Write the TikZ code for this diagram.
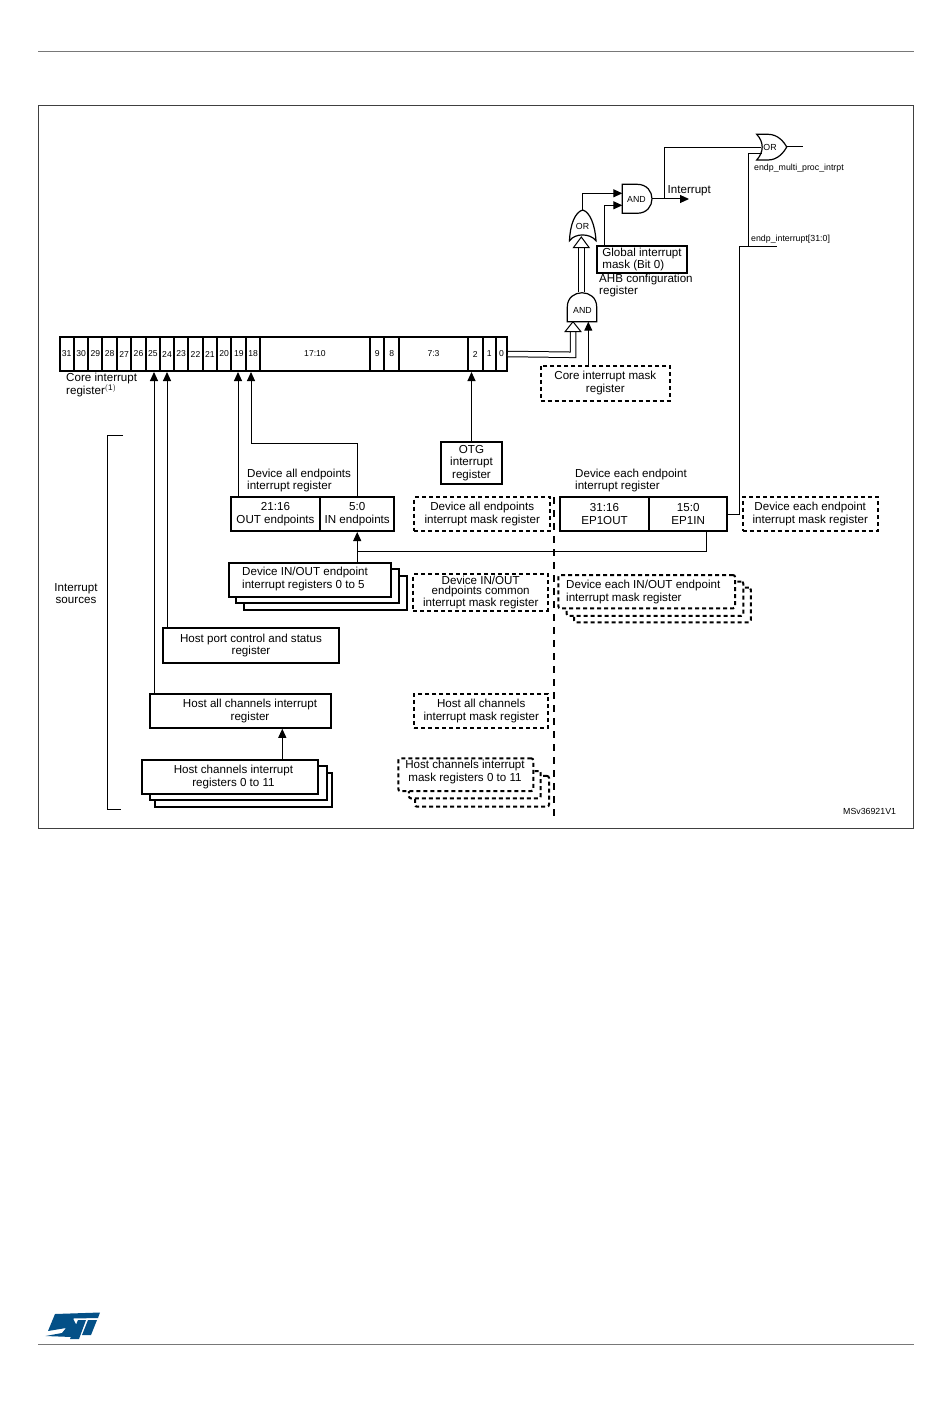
\documentclass[tikz,border=0pt]{standalone}
\usepackage{fontspec}
\setmainfont{Liberation Sans}
\usetikzlibrary{arrows.meta}
\definecolor{stblue}{RGB}{3,80,135}
\definecolor{rulegray}{RGB}{120,120,120}
\tikzset{
  wire/.style={line width=1pt},
  arr/.style={wire,-{Triangle[length=9pt,width=8pt]}},
  regbox/.style={draw,line width=2pt,fill=white,inner sep=0pt,align=center,font=\fontsize{11.6}{12.6}\selectfont},
  maskbox/.style={draw,line width=2pt,dash pattern=on 4pt off 3pt,fill=white,inner sep=0pt,align=center,font=\fontsize{11.6}{12.6}\selectfont},
  cellbox/.style={draw,line width=2pt,inner sep=0pt,minimum height=34pt,font=\fontsize{8.6}{10}\selectfont},
  txt/.style={inner sep=0pt,align=left,anchor=west,font=\fontsize{11.6}{12.6}\selectfont},
  ctxt/.style={inner sep=0pt,align=center,font=\fontsize{11.6}{12.6}\selectfont},
  small/.style={inner sep=0pt,anchor=west,font=\fontsize{8.8}{10}\selectfont},
  gatetxt/.style={inner sep=0pt,font=\fontsize{8.8}{10}\selectfont},
  gate/.style={line width=1.2pt,fill=white},
  busline/.style={double,double distance=4.5pt,line width=1pt},
  hollow/.style={line width=1pt,fill=white},
}
\begin{document}
\begin{tikzpicture}[x=1pt,y=-1pt]
  \useasboundingbox (0,0) rectangle (950,1420);
  % page rules and frame
  \draw[rulegray,line width=1pt] (38,52) -- (914,52);
  \draw[rulegray,line width=1pt] (38,1344) -- (914,1344);
  \draw[black!75,line width=.8pt] (38.5,105.5) rectangle (913.5,828.5);
  % logo
  \fill[stblue] (55,1314) -- (100,1312.5) -- (98,1318) -- (73,1318.5) -- (78,1328) -- (72,1337) -- (45.5,1336) -- (62,1333) -- (66,1328) -- (48,1331) -- cycle;
  \fill[stblue] (78,1320) -- (86,1320) -- (79,1339) -- (70,1339) -- cycle;
  \fill[stblue] (88,1320) -- (97,1320) -- (91,1335) -- (82,1335) -- cycle;
  % core interrupt register
  \foreach \xa/\xb/\lab/\nm in {59.5/74/31/c31,74/88.3/30/c30,88.3/102.3/29/c29,102.3/117/28/c28,117/131.3/27/c27,
    131.3/145.7/26/c26,145.7/160/25/c25,160/174/24/c24,174/188.3/23/c23,188.3/202.7/22/c22,202.7/217/21/c21,
    217/231.3/20/c20,231.3/246.3/19/c19,246.3/260/18/c18,260/370/17:10/chi,370/384.3/9/c9,384.3/399/8/c8,
    399/468/7:3/cmid,468/482.7/2/c2,482.7/496/1/c1,496/507/0/c0}{
    \pgfmathsetmacro{\cx}{(\xa+\xb)/2}
    \pgfmathsetmacro{\cw}{\xb-\xa}
    \node[cellbox,minimum width=\cw pt] (\nm) at (\cx,354) {\lab};
  }
  \node[txt] (corelab) at (66,385) {\fontsize{11.6}{10}\selectfont Core interrupt\\register$^{\mathrm{(1)}}$};
  % gates
  \draw[gate] (622.3,184.3) -- (637,184.3) .. controls (657,184.3) and (657,213.3) .. (637,213.3) -- (622.3,213.3) -- cycle;
  \draw[gate] (567.3,321.7) -- (567.3,307) .. controls (567.3,288) and (596.7,288) .. (596.7,307) -- (596.7,321.7) -- cycle;
  \draw[gate] (582.7,210) .. controls (575,212) and (570,225) .. (569.5,240.7) .. controls (575,233) and (590,233) .. (596,240.7) .. controls (595,225) and (590,212) .. (582.7,210) -- cycle;
  \draw[gate] (756.7,134.3) -- (768,134.3) .. controls (778,134.3) and (784,142) .. (786.7,147) .. controls (784,152) and (778,160) .. (768,160) -- (756.7,160) .. controls (764,152) and (764,142) .. (756.7,134.3) -- cycle;
  \node[gatetxt] (andtop) at (636.5,199) {AND};
  \node[gatetxt] (andlow) at (582.5,310) {AND};
  \node[gatetxt] (ormid) at (582.5,226) {OR};
  \node[gatetxt] (ortop) at (770,147) {OR};
  \coordinate (andin1) at (622.3,193.3);
  \coordinate (andin2) at (622.3,205.3);
  \coordinate (andout) at (652,199);
  \coordinate (ormidtip) at (582.7,210);
  \coordinate (ortopin1) at (761,147.7);
  \coordinate (ortopin2) at (762,153.3);
  \coordinate (ortopout) at (786.7,147);
  % registers
  \node[regbox,minimum width=90.6pt,minimum height=27.6pt,align=left] (globalmask) at (642,259.5) {Global interrupt\\mask (Bit 0)};
  \node[txt] (ahblab) at (599,285.5) {\fontsize{11.6}{10}\selectfont AHB configuration\\register};
  \node[maskbox,minimum width=129.3pt,minimum height=35pt] (coremask) at (605.3,383) {Core interrupt mask\\register};
  \node[regbox,minimum width=61pt,minimum height=42pt] (otg) at (471.5,463) {OTG\\interrupt\\register};
  \node[txt] (devalllab) at (247,480.5) {Device all endpoints\\interrupt register};
  \node[regbox,minimum width=89pt,minimum height=34pt] (outep) at (275.5,514) {21:16\\OUT endpoints};
  \node[regbox,minimum width=74.3pt,minimum height=34pt] (inep) at (357.2,514) {5:0\\IN endpoints};
  \node[maskbox,minimum width=135.7pt,minimum height=34pt] (devallmask) at (482.2,514) {Device all endpoints\\interrupt mask register};
  \node[txt] (devachlab) at (575,480.5) {Device each endpoint\\interrupt register};
  \node[regbox,minimum width=89pt,minimum height=34pt] (epout) at (604.5,514) {31:16\\EP1OUT};
  \node[regbox,minimum width=78.3pt,minimum height=34pt] (epin) at (688.2,514) {15:0\\EP1IN};
  \node[maskbox,minimum width=135pt,minimum height=34pt] (deveachmask) at (810.2,514) {Device each endpoint\\interrupt mask register};
  % stacks
  \node[regbox,minimum width=162.7pt,minimum height=34pt] (devio3) at (325.3,593) {};
  \node[regbox,minimum width=163pt,minimum height=34.3pt] (devio2) at (317.5,586.2) {};
  \node[regbox,minimum width=162pt,minimum height=34pt] (devio) at (310,579.7) {};
  \node[txt] (deviolab) at (242,579) {Device IN/OUT endpoint\\interrupt registers 0 to 5};
  \node[maskbox,minimum width=134.7pt,minimum height=36.4pt,font=\fontsize{11.6}{9.6}\selectfont] (devcommon) at (480.7,592.5) {Device IN/OUT\\endpoints common\\interrupt mask register};
  \node[maskbox,minimum width=176.7pt,minimum height=34.6pt,rounded corners=2pt] (eachio3) at (662.4,605) {};
  \node[maskbox,minimum width=176.6pt,minimum height=34.3pt,rounded corners=2pt] (eachio2) at (655,598.8) {};
  \node[maskbox,minimum width=176.7pt,minimum height=33.3pt,rounded corners=2pt] (eachio) at (646.7,591.7) {};
  \node[txt] (eachiolab) at (566,592) {Device each IN/OUT endpoint\\interrupt mask register};
  \node[regbox,minimum width=176pt,minimum height=35pt] (hostport) at (251,645.5) {Host port control and status\\register};
  \node[regbox,minimum width=181pt,minimum height=33.7pt] (hostall) at (240.5,710.9) {};
  \node[ctxt] (hostalllab) at (250,711) {Host all channels interrupt\\register};
  \node[maskbox,minimum width=134.3pt,minimum height=33.7pt] (hostallmask) at (481.2,710.9) {Host all channels\\interrupt mask register};
  \node[regbox,minimum width=176.5pt,minimum height=34pt] (hostch3) at (243.3,789.7) {};
  \node[regbox,minimum width=176.7pt,minimum height=34pt] (hostch2) at (238.3,783) {};
  \node[regbox,minimum width=176.3pt,minimum height=34pt] (hostch) at (230.2,777) {};
  \node[ctxt] (hostchlab) at (233.5,777) {Host channels interrupt\\registers 0 to 11};
  \node[maskbox,minimum width=134pt,minimum height=30.7pt,rounded corners=2pt] (hostmask3) at (482,791.3) {};
  \node[maskbox,minimum width=131.7pt,minimum height=27.3pt,rounded corners=2pt] (hostmask2) at (474.8,784.7) {};
  \node[maskbox,minimum width=135pt,minimum height=32.7pt,rounded corners=2pt] (hostmask) at (465.8,774.7) {};
  \node[ctxt] (hostmasklab) at (465,772) {Host channels interrupt\\mask registers 0 to 11};
  % dashed separator
  \coordinate (septop) at (553.7,497);
  \coordinate (sepbot) at (553.7,820);
  \draw[line width=2pt,dash pattern=on 7pt off 6pt] (septop) -- (sepbot);
  % connectors
  \draw[arr] ([xshift=5pt]hostall.north west) -- ([xshift=5pt]hostall.north west |- c25.south);
  \draw[arr] ([xshift=5pt]hostport.north west) -- ([xshift=5pt]hostport.north west |- c24.south);
  \draw[arr] ([xshift=8pt]outep.north west) -- ([xshift=8pt]outep.north west |- c19.south);
  \coordinate (inup) at ([yshift=54pt]inep.north);
  \coordinate (upleft) at (251,443);
  \draw[arr] (inep.north) |- (upleft) -- (upleft |- c18.south);
  \draw[arr] (otg.north) -- (otg.north |- c2.south);
  \draw[arr] (hostch.north -| 282.3,0) -- (hostall.south -| 282.3,0);
  \draw[arr] (devio.north -| inep.north) -- (inep.south);
  \coordinate (epjoin) at (706,551.7);
  \draw[wire] (epin.south -| epjoin) -- (epjoin) -- (epjoin -| inep.south);
  \draw[wire] (epin.east) -- ++(10.7,0) coordinate (irqcorner) -- (irqcorner |- 0,247) coordinate (irqtop) -- (777,247);
  \draw[wire] (748.3,247) -- (748.3,153.3) -- (ortopin2);
  \draw[wire] (andout) -- (664.5,199) -- (664.5,147.7) -- (ortopin1);
  \draw[arr] (andout) -- (689,199);
  \draw[wire] (ortopout) -- (803,147);
  \draw[arr] (ormidtip) |- (andin1);
  \draw[arr] (globalmask.north west -| 604,0) |- (andin2);
  \draw[arr] (coremask.north -| 588.3,0) -- (588.3,321.7);
  % buses with hollow heads
  \draw[busline] (c0.east) -- (573,354.8) -- (573,331);
  \draw[hollow] (573,321.7) -- (580.8,331.5) -- (565.2,331.5) -- cycle;
  \draw[busline] (581.3,292.3) -- (581.3,247);
  \draw[hollow] (581.3,237) -- (589.2,247.7) -- (573.4,247.7) -- cycle;
  % labels
  \node[txt] (interrlab) at (667.5,191) {Interrupt};
  \node[small] (multilab) at (754,168) {endp\_multi\_proc\_intrpt};
  \node[small] (endplab) at (751,239) {endp\_interrupt[31:0]};
  \node[ctxt] (srclab) at (76,593.5) {Interrupt\\sources};
  \node[small] (doclab) at (843,811) {MSv36921V1};
  % bracket
  \coordinate (brtop) at (123,435);
  \coordinate (brbot) at (121,809);
  \draw[wire] (brtop) -- (107,435) -- (107,809) -- (brbot);
\end{tikzpicture}
\end{document}
